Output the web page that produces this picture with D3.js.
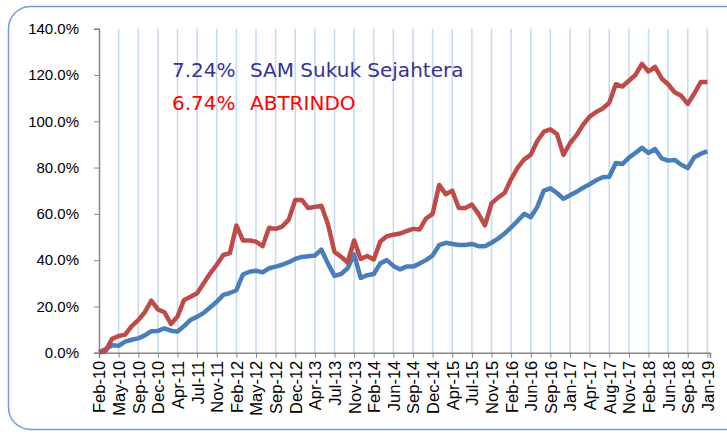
<!DOCTYPE html>
<html>
<head>
<meta charset="utf-8">
<script src="https://cdn.jsdelivr.net/npm/d3@7"></script>
<style>
  body { margin: 0; background: #fff; }
  svg { display: block; font-family: "DejaVu Sans", sans-serif; }
  .axis path, .axis line { stroke: #868686; }
  .axis text { fill: #000; font-size: 15px; }
</style>
</head>
<body>
<svg id="chart" width="727" height="434"></svg>
<script>
// tick labels (one every 15 weekly points)
var tickLabels = ["Feb-10","May-10","Sep-10","Dec-10","Apr-11","Jul-11","Nov-11","Feb-12",
  "May-12","Sep-12","Dec-12","Apr-13","Jul-13","Nov-13","Feb-14","Jun-14","Sep-14","Dec-14",
  "Apr-15","Jul-15","Nov-15","Feb-16","Jun-16","Sep-16","Jan-17","Apr-17","Aug-17","Nov-17",
  "Feb-18","Jun-18","Sep-18","Jan-19"];

// cumulative return (%), sampled every 5 weeks
var samSukuk = [0.3,1.5,3.2,3.0,4.8,5.6,6.2,7.5,9.3,9.4,10.5,9.5,9.1,11.5,14.2,15.5,17.2,19.6,22.0,
  25.0,25.8,27.0,33.8,35.0,35.4,34.7,36.5,37.2,38.0,39.1,40.5,41.4,41.7,42.0,44.5,38.5,33.2,34.0,
  36.5,42.5,32.3,33.5,34.0,38.6,40.0,37.5,36.0,37.2,37.2,38.5,40.0,42.0,46.5,47.5,47.0,46.5,
  46.5,47.0,46.0,46.0,47.5,49.3,51.5,54.2,57.0,60.0,58.5,63.0,70.0,71.0,69.0,66.5,68.0,69.5,
  71.3,72.8,74.5,75.8,76.0,82.0,81.5,84.3,86.3,88.5,86.3,88.0,84.0,83.0,83.3,81.2,79.8,84.5,86.0,87.0];

var abtrindo = [0.0,0.8,6.0,7.2,7.8,11.5,14.1,17.5,22.5,18.7,17.5,12.4,15.6,22.8,24.2,25.7,30.0,34.3,38.0,
  42.2,43.0,55.0,48.5,48.5,48.0,46.0,54.0,53.5,54.5,57.5,66.0,66.0,62.5,63.0,63.5,55.5,43.5,41.5,
  39.0,48.5,40.5,41.8,40.3,48.0,50.3,51.0,51.5,52.5,53.5,53.2,58.0,60.0,72.5,68.5,70.0,62.5,
  62.5,64.0,60.0,55.0,64.5,67.0,69.0,75.0,80.0,83.5,85.5,91.5,95.5,96.5,94.5,85.5,90.5,94.0,
  98.5,102.0,104.0,105.5,108.0,116.0,115.0,117.5,120.0,124.8,121.5,123.5,118.5,116.0,112.5,111.0,107.5,112.0,117.0,117.0];

var yTicks = [0, 20, 40, 60, 80, 100, 120, 140];

var svg = d3.select("#chart");

// outer frame
svg.append("rect")
  .attr("x", 8.5).attr("y", 6.5)
  .attr("width", 760).attr("height", 423)
  .attr("rx", 22).attr("ry", 22)
  .attr("fill", "#fff")
  .attr("stroke", "#6f9fdc")
  .attr("stroke-width", 1.5);

var x = d3.scaleLinear().domain([0, 467]).range([99, 710]);
var y = d3.scaleLinear().domain([0, 140]).range([352.7, 28.7]);

var tickWeeks = tickLabels.map(function(d, i) { return i * 15; });

// vertical gridlines
svg.append("g")
  .selectAll("line")
  .data(tickWeeks.slice(1))
  .enter().append("line")
  .attr("x1", function(d) { return x(d); })
  .attr("x2", function(d) { return x(d); })
  .attr("y1", y(140)).attr("y2", y(0))
  .attr("stroke", "#c6d9f0")
  .attr("stroke-width", 1.5);

// axes
var yAxis = svg.append("g")
  .attr("class", "axis")
  .attr("transform", "translate(" + x(0) + ",0)")
  .call(d3.axisLeft(y).tickValues(yTicks).tickSize(5).tickPadding(15)
    .tickFormat(function(d) { return d.toFixed(1) + "%"; }));
yAxis.select(".domain").attr("stroke-width", 1.5);

var xAxis = svg.append("g")
  .attr("class", "axis")
  .attr("transform", "translate(0," + y(0) + ")")
  .call(d3.axisBottom(x).tickValues(tickWeeks).tickSize(5)
    .tickFormat(function(d, i) { return tickLabels[i]; }));
xAxis.select(".domain").attr("stroke-width", 1.5);
xAxis.selectAll("text")
  .attr("transform", "rotate(-90)")
  .attr("text-anchor", "end")
  .attr("x", -8).attr("y", 0)
  .attr("dy", "0.36em")
  .style("font-size", "16.5px");

var line = d3.line()
  .x(function(d, i) { return x(i * 5); })
  .y(function(d) { return y(d); })
  .curve(d3.curveLinear);

svg.append("path")
  .datum(samSukuk)
  .attr("d", line)
  .attr("fill", "none")
  .attr("stroke", "#4a7ebb")
  .attr("stroke-width", 4.5)
  .attr("stroke-linejoin", "round");

svg.append("path")
  .datum(abtrindo)
  .attr("d", line)
  .attr("fill", "none")
  .attr("stroke", "#be4b48")
  .attr("stroke-width", 4.5)
  .attr("stroke-linejoin", "round");

// annotation
var notes = [
  { pct: "7.24%", name: "SAM Sukuk Sejahtera", color: "#33339a", yy: 77 },
  { pct: "6.74%", name: "ABTRINDO", color: "#ff0000", yy: 110 }
];
notes.forEach(function(n) {
  svg.append("text").attr("x", 172).attr("y", n.yy)
    .attr("font-size", "20px").attr("fill", n.color).text(n.pct);
  svg.append("text").attr("x", 250).attr("y", n.yy)
    .attr("font-size", "20px").attr("fill", n.color).text(n.name);
});
</script>
</body>
</html>
